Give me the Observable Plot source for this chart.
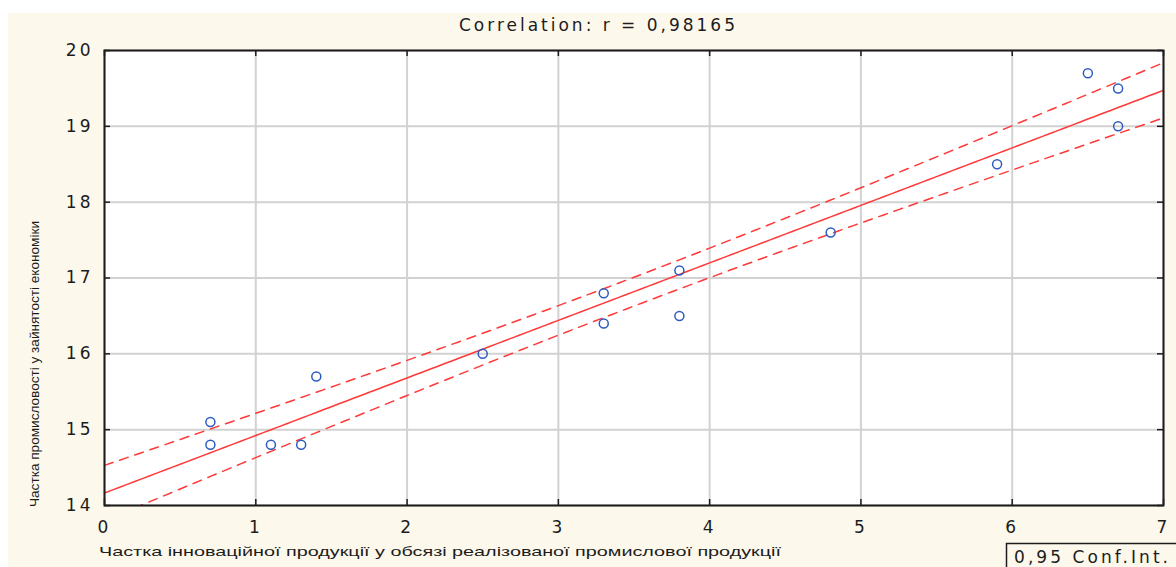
<!DOCTYPE html>
<html><head><meta charset="utf-8">
<script src="https://cdn.jsdelivr.net/npm/d3@7"></script>
<script src="https://cdn.jsdelivr.net/npm/@observablehq/plot@0.6"></script>
<style>
body{margin:0;background:#fff;}
#wrap{position:relative;width:1176px;height:567px;overflow:hidden;background:#fff;}
#bg{position:absolute;left:8px;top:13px;right:0;bottom:0;background:#fdf8ec;}
#chart{position:absolute;left:0;top:0;}
#chart g[aria-label$="tick label"] text{letter-spacing:3px;}
</style></head><body>
<div id="wrap"><div id="bg"></div><div id="chart"></div></div>
<script>
// ---- data ----
const titleText = "Correlation: r = 0,98165";
const xLabelText = "Частка інноваційної продукції у обсязі реалізованої промислової продукції";
const yLabelText = "Частка промисловості у зайнятості економіки";
const legendText = "0,95 Conf.Int.";
const xTicks = [0, 1, 2, 3, 4, 5, 6, 7];
const yTicks = [14, 15, 16, 17, 18, 19, 20];
const xValues = [0.7, 0.7, 1.1, 1.3, 1.4, 2.5, 3.3, 3.3, 3.8, 3.8, 4.8, 5.9, 6.5, 6.7, 6.7];
const yValues = [15.1, 14.8, 14.8, 14.8, 15.7, 16.0, 16.8, 16.4, 17.1, 16.5, 17.6, 18.5, 19.7, 19.5, 19.0];
const tCrit = 2.1604; // Student t, 0.975 quantile, 13 df (0.95 confidence)

// ---- derived: linear regression with 0.95 confidence band ----
const points = xValues.map((x, i) => ({x, y: yValues[i]}));
const n = points.length;
const mx = d3.mean(xValues), my = d3.mean(yValues);
const sxx = d3.sum(xValues, x => (x - mx) ** 2);
const sxy = d3.sum(points, p => (p.x - mx) * (p.y - my));
const slope = sxy / sxx, intercept = my - slope * mx;
const sse = d3.sum(points, p => (p.y - (intercept + slope * p.x)) ** 2);
const s = Math.sqrt(sse / (n - 2));
const grid = d3.ticks(xTicks[0], xTicks[xTicks.length - 1], 140);
const fit = grid.map(x => {
  const yh = intercept + slope * x;
  const h = tCrit * s * Math.sqrt(1 / n + (x - mx) ** 2 / sxx);
  return {x, y: yh, lo: yh - h, hi: yh + h};
});

// ---- chart ----
const W = 1176, H = 567, mL = 104, mR = 13, mT = 50, mB = 62;
const pw = W - mL - mR, ph = H - mT - mB;
const red = "#ff3838", blue = "#2d5cc0", ink = "#1c1c1c";
const fmt = d3.format("d");

const svg = Plot.plot({
  width: W, height: H,
  marginLeft: mL, marginRight: mR, marginTop: mT, marginBottom: mB,
  style: {background: "transparent", fontFamily: "'DejaVu Sans', sans-serif", color: ink, overflow: "visible"},
  x: {domain: [0, 7], ticks: xTicks, label: null},
  y: {domain: [14, 20], ticks: yTicks, label: null},
  marks: [
    Plot.frame({fill: "white"}),
    Plot.gridX(xTicks, {stroke: "#d2d2d2", strokeOpacity: 1, strokeWidth: 2}),
    Plot.gridY(yTicks, {stroke: "#d2d2d2", strokeOpacity: 1, strokeWidth: 2}),
    Plot.ruleY(yTicks, {y: d => d, stroke: ink, strokeWidth: 1.5, insetRight: pw - 6}),
    Plot.ruleY(yTicks, {y: d => d, stroke: ink, strokeWidth: 1.5, insetLeft: pw - 6}),
    Plot.ruleX(xTicks, {x: d => d, stroke: ink, strokeWidth: 1.5, insetBottom: ph - 6}),
    Plot.ruleX(xTicks, {x: d => d, stroke: ink, strokeWidth: 1.5, insetTop: ph - 6}),
    Plot.line(fit, {x: "x", y: "y", stroke: red, strokeWidth: 1.5, clip: true}),
    Plot.line(fit, {x: "x", y: "hi", stroke: red, strokeWidth: 1.5, strokeDasharray: "9,7", clip: true}),
    Plot.line(fit, {x: "x", y: "lo", stroke: red, strokeWidth: 1.5, strokeDasharray: "9,7", clip: true}),
    Plot.dot(points, {x: "x", y: "y", r: 4.5, stroke: blue, strokeWidth: 1.5}),
    Plot.frame({stroke: ink, strokeWidth: 2}),
    Plot.axisX(xTicks, {tickSize: 0, tickPadding: 15, fontSize: 17, tickFormat: fmt, label: null}),
    Plot.axisY(yTicks, {tickSize: 0, tickPadding: 11, fontSize: 17, tickFormat: fmt, label: null})
  ]
});

const sel = d3.select(svg);
sel.append("text")
  .attr("x", 597).attr("y", 31)
  .attr("text-anchor", "middle")
  .style("font-family", "'DejaVu Sans', sans-serif").style("font-size", "17px")
  .attr("fill", ink)
  .attr("textLength", 276).attr("lengthAdjust", "spacing")
  .text(titleText);
sel.append("text")
  .attr("x", 99).attr("y", 556)
  .attr("text-anchor", "start")
  .style("font-family", "'Liberation Sans', sans-serif").style("font-size", "13px")
  .attr("fill", ink)
  .attr("textLength", 682).attr("lengthAdjust", "spacingAndGlyphs")
  .text(xLabelText);
sel.append("text")
  .attr("transform", "translate(39,364) rotate(-90)")
  .attr("text-anchor", "middle")
  .style("font-family", "'Liberation Sans', sans-serif").style("font-size", "12px")
  .attr("fill", ink)
  .attr("textLength", 286).attr("lengthAdjust", "spacingAndGlyphs")
  .text(yLabelText);
sel.append("rect")
  .attr("x", 1006.5).attr("y", 543.5).attr("width", 200).attr("height", 40)
  .attr("fill", "none").attr("stroke", ink).attr("stroke-width", 1.5);
sel.append("text")
  .attr("x", 1014).attr("y", 563)
  .attr("text-anchor", "start")
  .style("font-family", "'DejaVu Sans', sans-serif").style("font-size", "17px")
  .attr("fill", ink)
  .attr("textLength", 154).attr("lengthAdjust", "spacing")
  .text(legendText);

document.getElementById("chart").appendChild(svg);
</script>
</body></html>
